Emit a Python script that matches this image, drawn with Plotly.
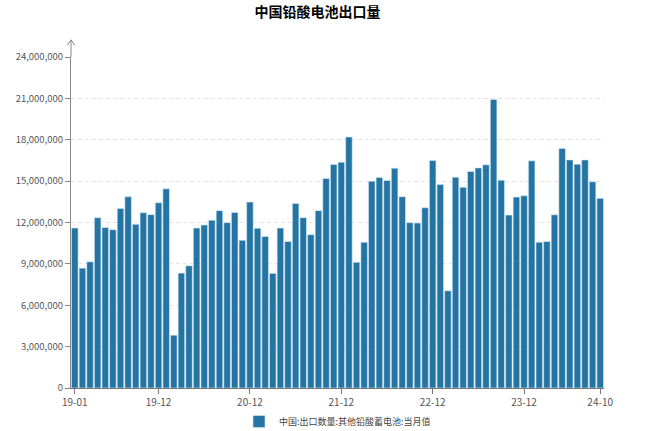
import plotly.graph_objects as go

months = [f"{y:02d}-{m:02d}" for y in range(19, 25) for m in range(1, 13)][:70]

values = [
    11.60, 8.69, 9.15, 12.35, 11.63, 11.48, 13.02, 13.87, 11.87, 12.71, 12.57, 13.43,
    14.44, 3.83, 8.33, 8.86, 11.60, 11.82, 12.16, 12.86, 11.99, 12.73, 10.71, 13.48,
    11.58, 10.99, 8.31, 11.60, 10.62, 13.38, 12.35, 11.12, 12.86, 15.19, 16.20, 16.37,
    18.20, 9.12, 10.57, 15.00, 15.26, 15.05, 15.94, 13.87, 11.99, 11.96, 13.07, 16.49,
    14.76, 7.05, 15.29, 14.56, 15.70, 15.96, 16.18, 20.92, 15.07, 12.54, 13.84, 13.94,
    16.47, 10.57, 10.62, 12.56, 17.36, 16.54, 16.23, 16.54, 14.95, 13.75,
]
values = [v * 1_000_000 for v in values]

tick_labels = ["19-01", "19-12", "20-12", "21-12", "22-12", "23-12", "24-10"]
y_ticks = list(range(0, 24_000_001, 3_000_000))

font_family = "Noto Sans CJK SC, Noto Sans, sans-serif"

fig = go.Figure()
fig.add_trace(go.Bar(
    x=months,
    y=values,
    name="中国:出口数量:其他铅酸蓄电池:当月值",
    marker=dict(color="#2475a3", line=dict(color="#d8eaf4", width=0.6)),
))

fig.update_layout(
    width=648, height=431,
    margin=dict(l=71, r=44, t=57, b=43, autoexpand=False),
    paper_bgcolor="white", plot_bgcolor="white",
    font=dict(family=font_family, size=10, color="#555"),
    title=dict(text="<b>中国铅酸电池出口量</b>", x=0.49, xanchor="center",
               yref="container", y=0.972, yanchor="middle",
               font=dict(size=14, color="#000", family=font_family)),
    bargap=0.14,
    showlegend=True,
    legend=dict(orientation="h", x=0.5, xanchor="center",
                yref="container", y=0.022, yanchor="middle",
                font=dict(size=9, color="#444")),
    xaxis=dict(
        type="category", automargin=False,
        tickmode="array", tickvals=tick_labels, ticktext=tick_labels,
        showline=True, linecolor="#777", linewidth=1,
        ticks="outside", ticklen=5, tickcolor="#777",
        showgrid=False, tickfont=dict(size=10, color="#555"),
    ),
    yaxis=dict(
        range=[0, 24_000_000], automargin=False,
        tickmode="array", tickvals=y_ticks, tickformat=",d",
        showline=True, linecolor="#888", linewidth=1,
        ticks="outside", ticklen=5, tickcolor="#888",
        showgrid=True, gridcolor="#e3e3e3", griddash="4px,3px", gridwidth=1,
        zeroline=False, tickfont=dict(size=9.5, color="#555"),
    ),
)

# axis arrow extension at the top of the y axis
fig.add_shape(type="line", xref="paper", yref="paper", x0=0, x1=0, y0=1, y1=1.05,
              line=dict(color="#888", width=1))
fig.add_shape(type="path", xref="paper", yref="paper",
              path="M -0.007 1.035 L 0 1.052 L 0.007 1.035",
              line=dict(color="#888", width=1))

fig.write_html(
    "out.html",
    config={"displayModeBar": False},
    post_script="document.body.style.margin='0';document.body.style.overflow='hidden';",
)
